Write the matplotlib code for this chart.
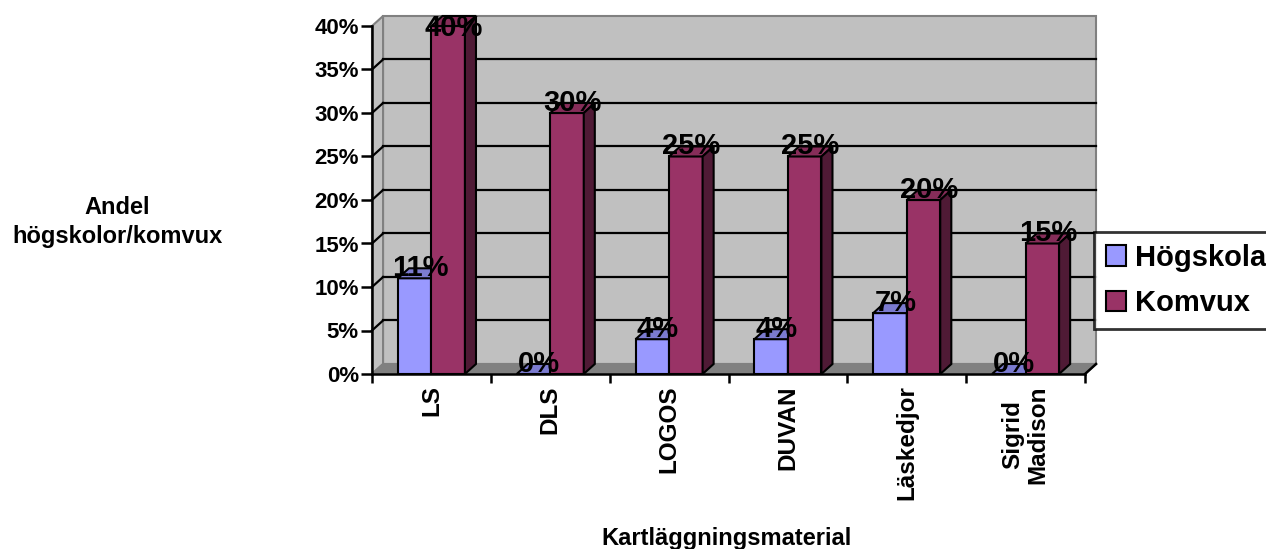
import numpy as np
import matplotlib.pyplot as plt
from matplotlib.patches import Polygon, Patch

plt.rcParams['font.family'] = ['Liberation Sans', 'DejaVu Sans']
plt.rcParams['font.weight'] = 'bold'

# data
kategorier = ["LS", "DLS", "LOGOS", "DUVAN", "Läskedjor", "Sigrid\nMadison"]
hogskola = [11, 0, 4, 4, 7, 0]
komvux = [40, 30, 25, 25, 20, 15]
serier = ["Högskola", "Komvux"]
y_ticks = [0, 5, 10, 15, 20, 25, 30, 35, 40]

# colors (front, top, side)
farger = {
    "Högskola": ("#9999FF", "#7B7BD0", "#4D4D80"),
    "Komvux": ("#993366", "#862D59", "#4F1A35"),
}

# 3d depth offsets in data units
DX = 0.093
DY = 1.15
BW = 0.282

fig = plt.figure(figsize=(12.66, 5.49), dpi=100)
ax = fig.add_axes([372 / 1266, 175 / 549, 713 / 1266, 348 / 549])
n = len(kategorier)
ymax = y_ticks[-1]
ax.set_xlim(0, n)
ax.set_ylim(0, ymax)

# walls and floor
vagg = Polygon([(DX, DY), (n + DX, DY), (n + DX, ymax + DY), (DX, ymax + DY)],
               closed=True, fc="#C0C0C0", ec="#808080", lw=1.5, zorder=1, clip_on=False)
sida = Polygon([(0, 0), (DX, DY), (DX, ymax + DY), (0, ymax)],
               closed=True, fc="#C0C0C0", ec="#808080", lw=1.5, zorder=1, clip_on=False)
golv = Polygon([(0, 0), (n, 0), (n + DX, DY), (DX, DY)],
               closed=True, fc="#808080", ec="#808080", lw=1.5, zorder=1, clip_on=False)
for p in (vagg, sida, golv):
    ax.add_patch(p)

# gridlines on back wall and left wall
for t in y_ticks[1:-1]:
    ax.plot([DX, n + DX], [t + DY, t + DY], color="black", lw=1.6, zorder=2, clip_on=False)
    ax.plot([0, DX], [t, t + DY], color="black", lw=1.6, zorder=2, clip_on=False)
ax.plot([n, n + DX], [0, DY], color="black", lw=1.8, zorder=2, clip_on=False)

x = np.arange(n) + 0.5
for i in range(n):
    for j, (namn, vals) in enumerate(zip(serier, [hogskola, komvux])):
        v = vals[i]
        x0 = x[i] - BW + j * BW
        x1 = x0 + BW
        front, topp, sid = farger[namn]
        z = 3 + i * 3 + j
        ax.bar(x0, v, width=BW, align="edge", color=front, edgecolor="black",
               lw=1.5, zorder=z)
        ax.add_patch(Polygon([(x0, v), (x1, v), (x1 + DX, v + DY), (x0 + DX, v + DY)],
                             closed=True, fc=topp, ec="black", lw=1.5, zorder=z,
                             clip_on=False))
        if v > 0:
            ax.add_patch(Polygon([(x1, 0), (x1 + DX, DY), (x1 + DX, v + DY), (x1, v)],
                                 closed=True, fc=sid, ec="black", lw=1.5, zorder=z,
                                 clip_on=False))
        ax.text(x0 + BW / 2 + DX / 2, min(v + DY, ymax - 0.2), f"{v}%",
                ha="center", va="center", fontsize=21, fontweight="bold",
                zorder=50, clip_on=False)

# axes
ax.spines["top"].set_visible(False)
ax.spines["right"].set_visible(False)
ax.spines["left"].set_linewidth(1.8)
ax.spines["bottom"].set_linewidth(1.8)
ax.spines["left"].set_zorder(40)
ax.spines["bottom"].set_zorder(40)
ax.set_yticks(y_ticks)
ax.set_yticklabels([f"{t}%" for t in y_ticks], fontsize=16, fontweight="bold")
ax.tick_params(axis="y", direction="out", length=8, width=1.8, pad=1.5)
ax.set_xticks(x)
ax.set_xticklabels(kategorier, rotation=90, fontsize=17.5, fontweight="bold",
                   va="top", ha="center", multialignment="center", linespacing=1.1)
ax.set_xticks(np.arange(n + 1), minor=True)
ax.tick_params(axis="x", which="major", length=0, pad=8)
ax.tick_params(axis="x", which="minor", direction="out", length=6.5, width=1.8)
ax.set_facecolor("none")

fig.text(117 / 1266, 1 - 222 / 549, "Andel\nhögskolor/komvux", ha="center", va="center",
         fontsize=17, fontweight="bold", multialignment="center", linespacing=1.35)
fig.text(727 / 1266, 4 / 549, "Kartläggningsmaterial", ha="center", va="baseline",
         fontsize=17, fontweight="bold")

handles = [Patch(fc=farger[s][0], ec="black", lw=1.5) for s in serier]
leg = fig.legend(handles, serier, loc="upper left", bbox_to_anchor=(1094 / 1266, 1 - 232 / 549),
                 fontsize=21, frameon=True, fancybox=False, handlelength=0.7,
                 handleheight=0.7, handletextpad=0.3, borderpad=0.4, labelspacing=0.6,
                 borderaxespad=0)
leg.get_frame().set_edgecolor("black")
leg.get_frame().set_linewidth(2)
for t in leg.get_texts():
    t.set_fontweight("bold")

fig.savefig("out.png", dpi=100)
